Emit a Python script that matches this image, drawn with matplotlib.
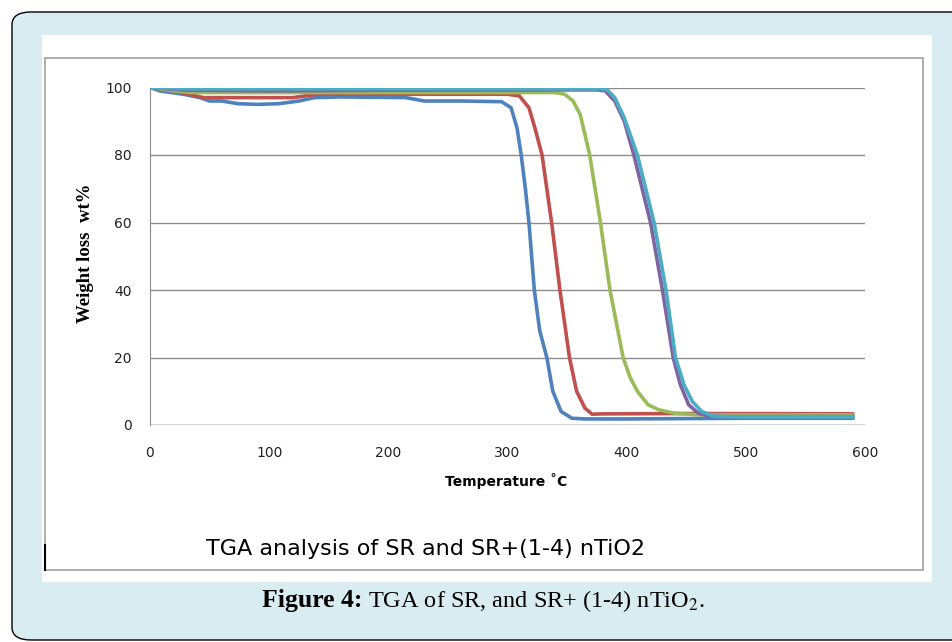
import matplotlib
matplotlib.use("Agg")
import matplotlib.pyplot as plt
from matplotlib.patches import FancyBboxPatch, Rectangle

# Data (temperature in C, weight in %)
t_sr = [0, 8, 28, 42, 50, 60, 74, 90, 108, 125, 138, 160, 215, 230, 260, 295, 303, 308,
        311.5, 315, 318, 322.5, 327, 333, 338, 345, 354, 365, 400, 500, 590]
w_sr = [100, 99, 98, 97, 96, 96, 95.2, 95, 95.2, 96, 97, 97.2, 97, 96, 96, 95.8, 94, 88,
        80, 70, 60, 40, 28, 20, 10, 4, 2, 1.8, 1.8, 2, 2]

t_sr1 = [0, 20, 45, 60, 120, 140, 200, 300, 310, 318, 323, 329, 337, 344, 352, 358, 365,
         371, 380, 450, 590]
w_sr1 = [100, 99, 97, 97, 97, 98, 98, 98, 97.5, 94, 88, 80, 60, 40, 20, 10, 5,
         3.2, 3.3, 3.4, 3.3]

t_sr2 = [0, 20, 35, 100, 200, 340, 348, 355, 361, 365, 369, 378, 386, 397, 403, 409, 418,
         427, 440, 460, 590]
w_sr2 = [100, 99, 98.5, 98.5, 98.5, 98.5, 98, 96, 92, 86, 80, 60, 40, 20, 14, 10, 6,
         4.5, 3.5, 3, 3]

t_sr3 = [0, 30, 100, 200, 375, 382, 390, 398, 406, 413, 420, 430, 439, 445, 452, 460, 467,
         480, 590]
w_sr3 = [100, 99.2, 99, 99.2, 99.3, 99, 96, 90, 80, 70, 60, 40, 20, 12, 6, 3.5, 2.8,
         2.5, 2.5]

t_sr4 = [0, 30, 100, 380, 384, 390, 398, 409, 416, 423, 433, 441, 448, 455, 463, 473, 490, 590]
w_sr4 = [100, 99.6, 99.6, 99.6, 99.2, 97, 91, 80, 70, 60, 40, 20, 12, 7, 4, 2.6, 2.4, 2.4]

series = [
    (t_sr, w_sr, "#4F81BD"),
    (t_sr1, w_sr1, "#C0504D"),
    (t_sr2, w_sr2, "#9BBB59"),
    (t_sr3, w_sr3, "#8064A2"),
    (t_sr4, w_sr4, "#4BACC6"),
]

x_ticks = [0, 100, 200, 300, 400, 500, 600]
y_ticks = [0, 20, 40, 60, 80, 100]

W, H = 952, 642
fig = plt.figure(figsize=(W / 100, H / 100), dpi=100)


def fx(px):
    return px / W


def fy(py):
    return 1 - py / H


# light blue frame with rounded corners (runs off the right edge)
frame = FancyBboxPatch((fx(12), fy(640)), fx(1000) - fx(12), fy(12) - fy(640),
                       boxstyle="round,pad=0,rounding_size=0.02",
                       transform=fig.transFigure, facecolor="#d8ecf2",
                       edgecolor="black", linewidth=1.0, zorder=0)
fig.patches.append(frame)

# white picture area and grey chart border
fig.patches.append(Rectangle((fx(42), fy(582)), fx(932) - fx(42), fy(35) - fy(582),
                             transform=fig.transFigure, facecolor="white",
                             edgecolor="none", zorder=1))
fig.patches.append(Rectangle((fx(45), fy(570)), fx(923) - fx(45), fy(58) - fy(570),
                             transform=fig.transFigure, facecolor="none",
                             edgecolor="#a0a0a0", linewidth=1.2, zorder=2))
fig.add_artist(plt.Line2D([fx(45), fx(45)], [fy(545), fy(570)],
                          transform=fig.transFigure, color="black", linewidth=1.5, zorder=3))

# plot area
ax = fig.add_axes([fx(150), fy(425), fx(865) - fx(150), fy(87.5) - fy(425)])
ax.set_zorder(5)
ax.set_facecolor("none")
for t, w, c in series:
    ax.plot(t, w, color=c, linewidth=2.6, solid_capstyle="round", zorder=3)

ax.set_xlim(0, 600)
ax.set_ylim(0, 100)
ax.set_xticks(x_ticks)
ax.set_yticks(y_ticks)
ax.tick_params(length=0, labelsize=10, colors="#222222")
ax.tick_params(axis="x", pad=15)
ax.tick_params(axis="y", pad=13)
ax.grid(axis="y", color="#8c8c8c", linewidth=1.0)
for s in ["top", "right", "bottom"]:
    ax.spines[s].set_visible(False)
ax.spines["left"].set_color("#8c8c8c")
ax.axhline(0, color="#8c8c8c", linewidth=1.0, zorder=1)

fig.text(fx(506), fy(481), "Temperature \u02daC", fontsize=10, fontweight="bold",
         ha="center", va="center")
fig.text(fx(85), fy(253), "Weight loss  wt%", fontsize=13.5, fontweight="bold",
         family="Liberation Serif", rotation=90, ha="center", va="center")

fig.text(fx(425), fy(549), "TGA analysis of SR and SR+(1-4) nTiO2", fontsize=16,
         ha="center", va="center")

# caption
plt.rcParams["mathtext.fontset"] = "stix"
fig.text(fx(362), fy(607), "Figure 4:", fontsize=18.5, fontweight="bold",
         family="Liberation Serif", ha="right", va="baseline")
fig.text(fx(368), fy(607), "TGA of SR, and SR+ (1-4) nTiO$_2$.", fontsize=17.5,
         family="Liberation Serif", ha="left", va="baseline")

fig.savefig("out.png", dpi=100)
